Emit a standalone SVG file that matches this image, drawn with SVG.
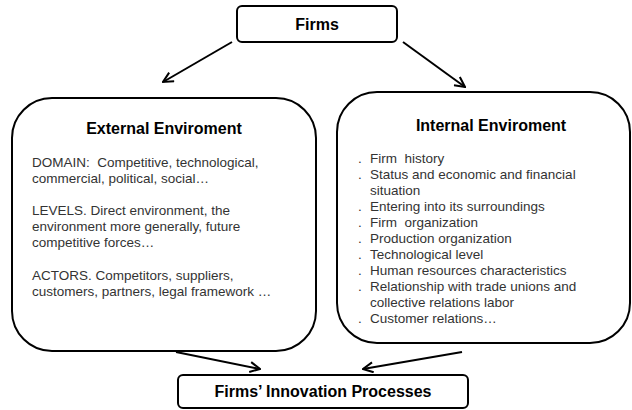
<svg xmlns="http://www.w3.org/2000/svg" width="632" height="410" viewBox="0 0 632 410">
<defs>
<style>
.box{fill:#fff;stroke:#000;stroke-width:2}
.title{font-family:"Liberation Sans",Arial,sans-serif;font-weight:bold;font-size:16px;fill:#000;text-anchor:middle}
.body{font-family:"Liberation Sans",Arial,sans-serif;font-size:13.5px;fill:#333;white-space:pre}
.conn{stroke:#000;stroke-width:2;fill:none}
</style>
<marker id="arr" viewBox="0 0 12 12" refX="11" refY="6" markerWidth="12" markerHeight="12" markerUnits="userSpaceOnUse" orient="auto">
<path d="M1,1 L11,6 L1,11" fill="none" stroke="#000" stroke-width="2"/>
</marker>
</defs>
<rect width="632" height="410" fill="#fff"/>
<g id="connectors">
<line class="conn" x1="232" y1="42" x2="163" y2="82" marker-end="url(#arr)"/>
<line class="conn" x1="403" y1="42" x2="465" y2="87" marker-end="url(#arr)"/>
<line class="conn" x1="176" y1="352" x2="260" y2="369" marker-end="url(#arr)"/>
<line class="conn" x1="462" y1="352" x2="363" y2="369" marker-end="url(#arr)"/>
</g>
<g id="firms">
<rect class="box" x="237" y="6" width="160" height="36" rx="5"/>
<text class="title" x="317" y="30">Firms</text>
</g>
<g id="external">
<rect class="box" x="12" y="98" width="304" height="253" rx="40"/>
<text class="title" x="164" y="134">External Enviroment</text>
<text class="body" x="32" y="167">DOMAIN:  Competitive, technological,</text>
<text class="body" x="32" y="183">commercial, political, social…</text>
<text class="body" x="32" y="215">LEVELS. Direct environment, the</text>
<text class="body" x="32" y="231">environment more generally, future</text>
<text class="body" x="32" y="247">competitive forces…</text>
<text class="body" x="32" y="280">ACTORS. Competitors, suppliers,</text>
<text class="body" x="32" y="296">customers, partners, legal framework …</text>
</g>
<g id="internal">
<rect class="box" x="337" y="92" width="293" height="251" rx="40"/>
<text class="title" x="491" y="131">Internal Enviroment</text>
<text class="body" y="163"><tspan x="358">.</tspan><tspan x="370">Firm  history</tspan></text>
<text class="body" y="179"><tspan x="358">.</tspan><tspan x="370">Status and economic and financial</tspan></text>
<text class="body" x="370" y="195">situation</text>
<text class="body" y="211"><tspan x="358">.</tspan><tspan x="370">Entering into its surroundings</tspan></text>
<text class="body" y="227"><tspan x="358">.</tspan><tspan x="370">Firm  organization</tspan></text>
<text class="body" y="243"><tspan x="358">.</tspan><tspan x="370">Production organization</tspan></text>
<text class="body" y="259"><tspan x="358">.</tspan><tspan x="370">Technological level</tspan></text>
<text class="body" y="275"><tspan x="358">.</tspan><tspan x="370">Human resources characteristics</tspan></text>
<text class="body" y="291"><tspan x="358">.</tspan><tspan x="370">Relationship with trade unions and</tspan></text>
<text class="body" x="370" y="307">collective relations labor</text>
<text class="body" y="323"><tspan x="358">.</tspan><tspan x="370">Customer relations…</tspan></text>
</g>
<g id="innovation">
<rect class="box" x="178" y="375" width="290" height="33" rx="5"/>
<text class="title" x="323" y="397">Firms’ Innovation Processes</text>
</g>
</svg>
